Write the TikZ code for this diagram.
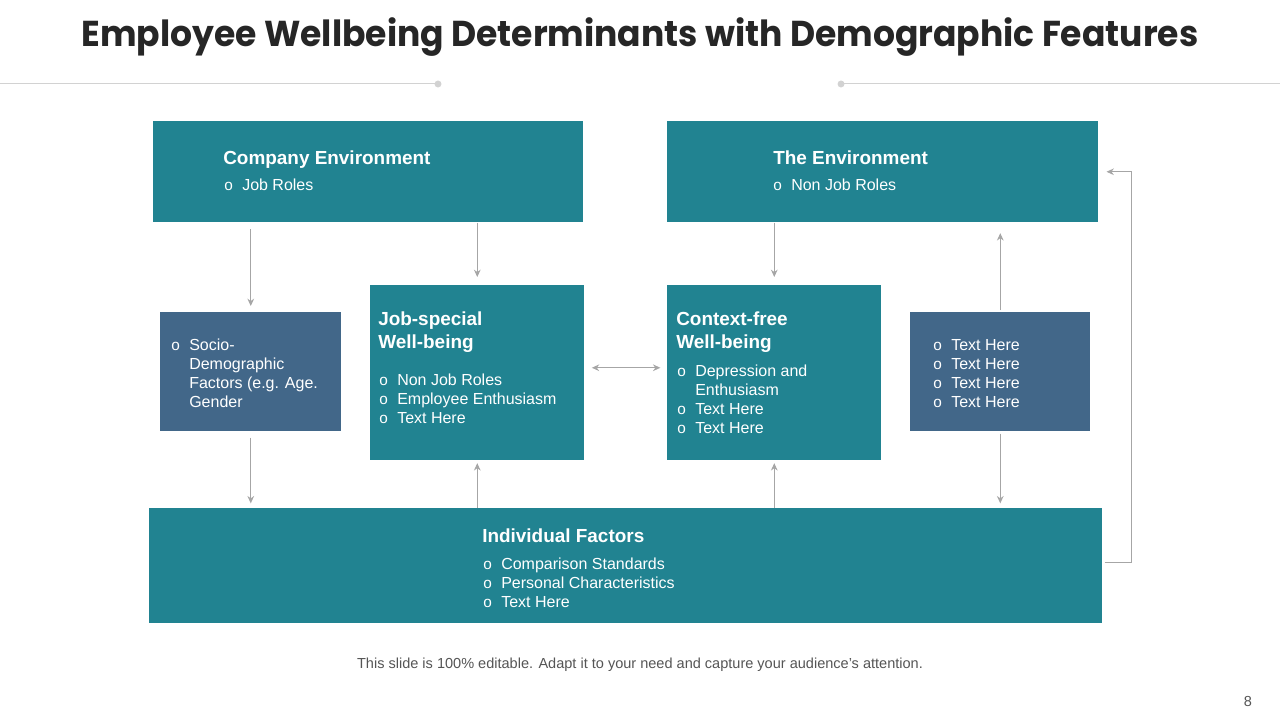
\documentclass[tikz,border=0pt]{standalone}
\usepackage{fontspec}
\setmainfont{Liberation Sans}
\newfontfamily\titlefont{Poppins}[FakeStretch=0.96]
\usetikzlibrary{arrows.meta,calc}
\definecolor{tealc}{RGB}{33,131,145}
\definecolor{slatec}{RGB}{66,103,137}
\definecolor{arrc}{RGB}{166,166,166}
\definecolor{divc}{RGB}{210,210,210}
\definecolor{titlec}{RGB}{38,38,38}
\definecolor{footc}{RGB}{85,85,85}
\newcommand{\bl}{\makebox[13.5pt][l]{\fontsize{11.5pt}{10pt}\selectfont o}}
\newcommand{\nb}{\hspace*{13.5pt}}
\newcommand{\bodyf}{\fontsize{12pt}{14.25pt}\selectfont}
\newcommand{\headf}{\fontsize{14.2pt}{17.25pt}\selectfont\bfseries}
\tikzset{
  box/.style n args={2}{rectangle, inner sep=0pt, anchor=north west, draw=none,
     minimum width=#1*0.75pt, minimum height=#2*0.75pt},
  tealbox/.style 2 args={box={#1}{#2}, fill=tealc},
  slatebox/.style 2 args={box={#1}{#2}, fill=slatec},
  lbl/.style={anchor=base west, inner sep=0pt, text=white},
  arr/.style={draw=arrc, line width=0.75pt, -{Stealth[length=5.5pt,width=5pt]}},
  darr/.style={draw=arrc, line width=0.75pt, {Stealth[length=5.5pt,width=5pt]}-{Stealth[length=5.5pt,width=5pt]}},
}
\begin{document}
\begin{tikzpicture}[x=0.75pt,y=-0.75pt]
\useasboundingbox[fill=white] (0,0) rectangle (1280,720);

% title
\node[anchor=base, inner sep=0pt, text=titlec] (title) at (640,47)
  {\titlefont\fontsize{27pt}{30pt}\selectfont\bfseries Employee Wellbeing Determinants with Demographic Features};
\draw[divc, line width=0.75pt] (0,84) -- (438,84);
\fill[divc] (438,84) circle[radius=2.6pt];
\draw[divc, line width=0.75pt] (841,84) -- (1280,84);
\fill[divc] (841,84) circle[radius=2.6pt];

% boxes
\node[tealbox={430}{101}] (cmp) at (153,121) {};
\node[tealbox={431}{101}] (env) at (667,121) {};
\node[slatebox={181}{119}] (soc) at (160,312) {};
\node[tealbox={214}{175}] (job) at (370,285) {};
\node[tealbox={214}{175}] (ctx) at (667,285) {};
\node[slatebox={180}{119}] (txt) at (910,312) {};
\node[tealbox={953}{115}] (ind) at (149,508) {};

% texts
\node[lbl] (cmpT) at (223,164.5) {\headf Company Environment};
\node[lbl] (cmpB) at (224,191) {\bodyf\bl Job Roles};

\node[lbl] (envT) at (773,164.5) {\headf The Environment};
\node[lbl] (envB) at (773,191) {\bodyf\bl Non Job Roles};

\node[lbl] (socB) at (171,350) {\bodyf\begin{tabular}[t]{@{}l@{}}
  \bl Socio-\\ \nb Demographic\\ \nb Factors (e.g. Age.\\ \nb Gender\end{tabular}};

\node[lbl] (jobT) at (378,325.5) {\headf\begin{tabular}[t]{@{}l@{}}Job-special\\ Well-being\end{tabular}};
\node[lbl] (jobB) at (379,385) {\bodyf\begin{tabular}[t]{@{}l@{}}
  \bl Non Job Roles\\ \bl Employee Enthusiasm\\ \bl Text Here\end{tabular}};

\node[lbl] (ctxT) at (676,325.5) {\headf\begin{tabular}[t]{@{}l@{}}Context-free\\ Well-being\end{tabular}};
\node[lbl] (ctxB) at (677,376) {\bodyf\begin{tabular}[t]{@{}l@{}}
  \bl Depression and\\ \nb Enthusiasm\\ \bl Text Here\\ \bl Text Here\end{tabular}};

\node[lbl] (txtB) at (933,350) {\bodyf\begin{tabular}[t]{@{}l@{}}
  \bl Text Here\\ \bl Text Here\\ \bl Text Here\\ \bl Text Here\end{tabular}};

\node[lbl] (indT) at (482,542.5) {\headf Individual Factors};
\node[lbl] (indB) at (483,569) {\bodyf\begin{tabular}[t]{@{}l@{}}
  \bl Comparison Standards\\ \bl Personal Characteristics\\ \bl Text Here\end{tabular}};

% connectors
\draw[arr, shorten <=5pt, shorten >=4.5pt] (cmp.south -| soc.north) -- (soc.north);
\draw[arr, shorten <=4.5pt, shorten >=3.5pt] (soc.south) -- (soc.south |- ind.north);
\draw[arr, shorten >=6pt] (cmp.south -| job.north) -- (job.north);
\draw[arr, shorten >=2pt] (ind.north -| job.south) -- (job.south);
\draw[arr, shorten >=6pt] (env.south -| ctx.north) -- (ctx.north);
\draw[arr, shorten >=2pt] (ind.north -| ctx.south) -- (ctx.south);
\draw[darr, shorten <=5.5pt, shorten >=5pt] ($(job.east)+(0,-5)$) -- ($(ctx.west)+(0,-5)$);
\draw[arr, shorten <=1.5pt, shorten >=8pt] (txt.north) -- (txt.north |- env.south);
\draw[arr, shorten <=1.5pt, shorten >=3.5pt] (txt.south) -- (txt.south |- ind.north);
\draw[arr, shorten <=1.5pt, shorten >=6pt] ($(ind.east)+(0,-3.5)$) -- ++(29,0) |- (env.east);

% footer
\node[anchor=base, inner sep=0pt, text=footc] (foot) at (640,668.5)
  {\fontsize{10.9pt}{12pt}\selectfont This slide is 100\% editable. Adapt it to your need and capture your audience’s attention.};
\node[anchor=base, inner sep=0pt, text=footc] (page) at (1248,706)
  {\fontsize{10.9pt}{12pt}\selectfont 8};
\end{tikzpicture}
\end{document}
